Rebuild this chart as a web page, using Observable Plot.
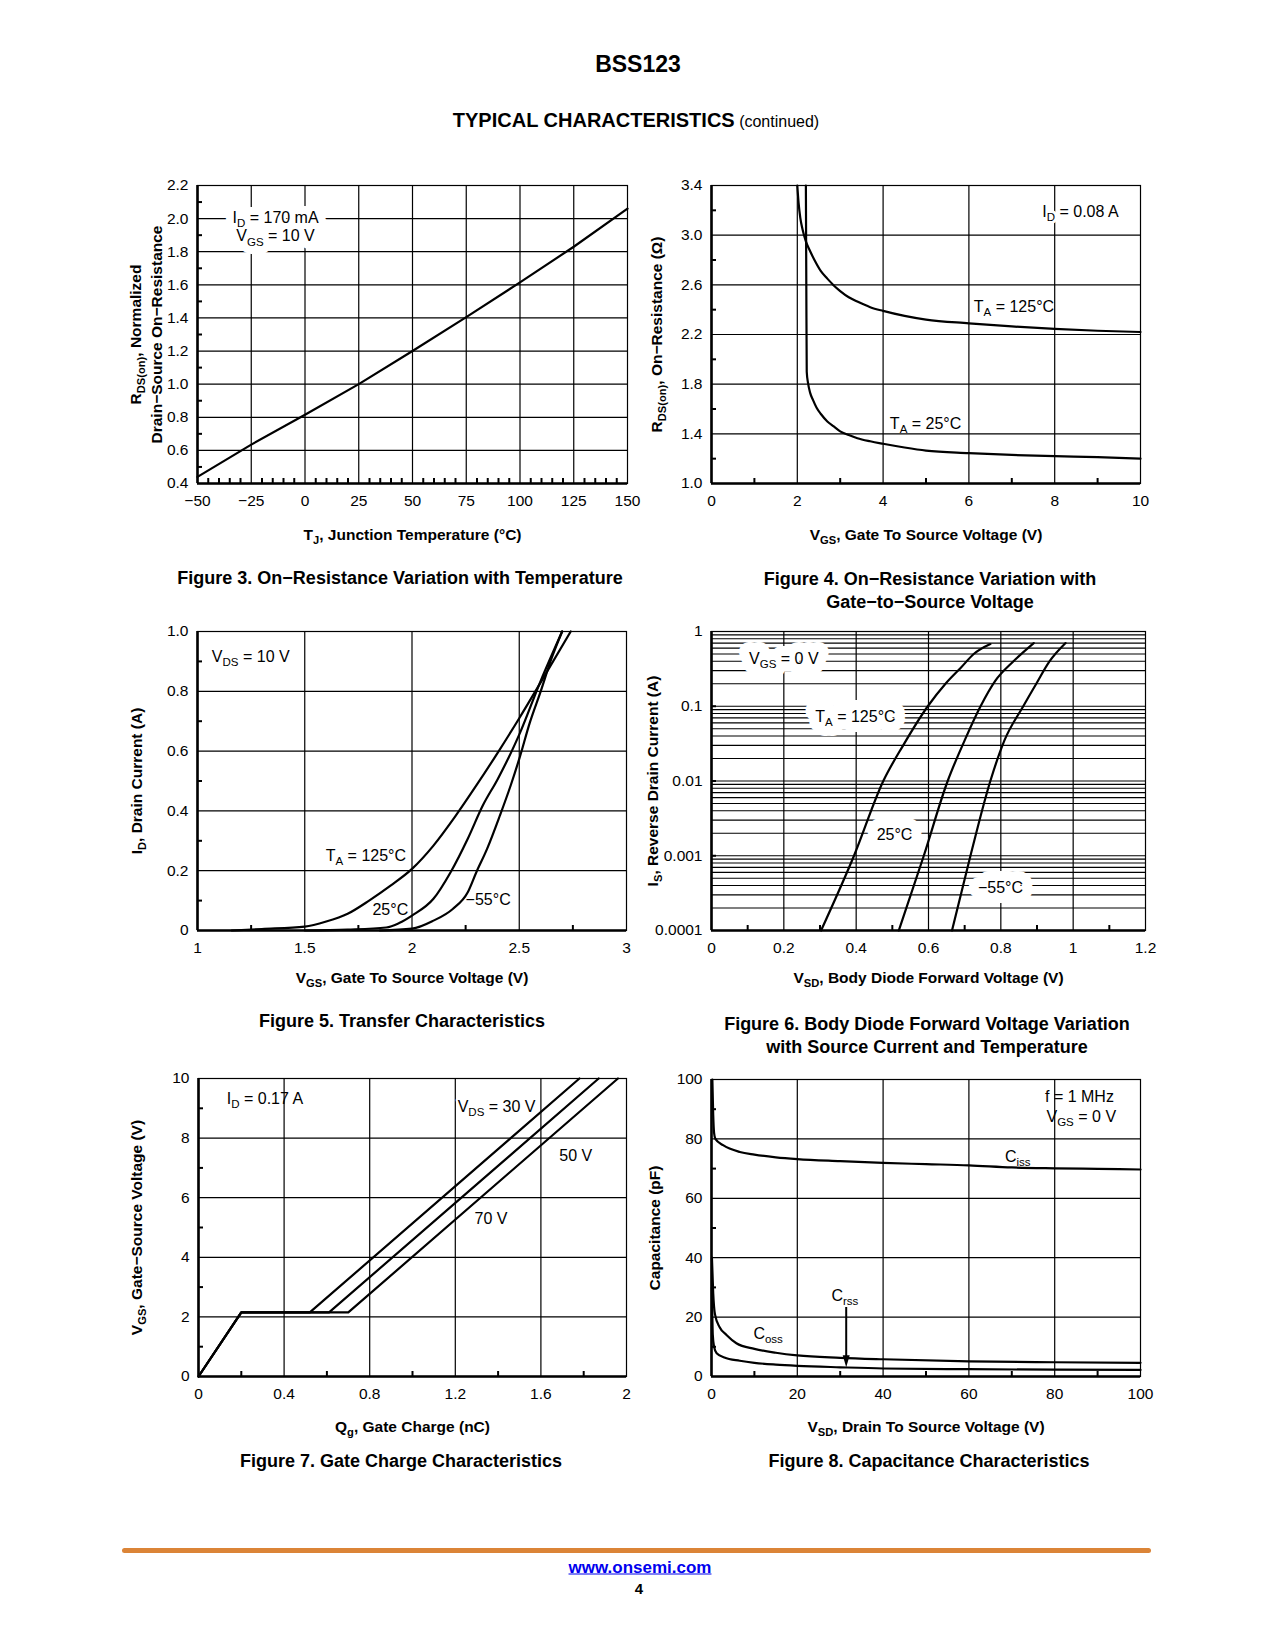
<!DOCTYPE html>
<html><head><meta charset="utf-8">
<script src="https://cdn.jsdelivr.net/npm/d3@7"></script>
<script src="https://cdn.jsdelivr.net/npm/@observablehq/plot@0.6"></script>
<style>
body{margin:0;background:#fff;}
#page{position:relative;width:1275px;height:1650px;background:#fff;font-family:"Liberation Sans",Arial,Helvetica,sans-serif;color:#000;overflow:hidden;}
.abs{position:absolute;white-space:nowrap;transform:translate(-50%,-50%);text-align:center;line-height:1;}
.cap{font-weight:bold;font-size:18px;}
</style></head><body><div id="page"></div>
<script>
// ---------- DATA ----------
// Figure 3
const fig3Temp = [-50, -25, 0, 25, 50, 75, 100, 125, 150];
const fig3Rnorm = [0.44, 0.635, 0.815, 1.0, 1.2, 1.405, 1.615, 1.83, 2.06];
// Figure 4
const fig4Vgs125 = [2.0, 2.03, 2.07, 2.12, 2.2, 2.3, 2.4, 2.55, 2.7, 2.85, 3.0, 3.2, 3.4, 3.7, 4.0, 4.5, 5, 6, 7, 8, 9, 10];
const fig4R125   = [3.4, 3.26, 3.14, 3.05, 2.95, 2.87, 2.80, 2.71, 2.65, 2.595, 2.55, 2.50, 2.465, 2.42, 2.39, 2.35, 2.32, 2.29, 2.265, 2.245, 2.23, 2.22];
const fig4Vgs25  = [2.2, 2.21, 2.22, 2.25, 2.3, 2.37, 2.45, 2.55, 2.7, 2.85, 3.0, 3.2, 3.4, 3.7, 4.0, 4.5, 5, 6, 7, 8, 9, 10];
const fig4R25    = [3.4, 2.6, 1.9, 1.81, 1.73, 1.67, 1.61, 1.56, 1.5, 1.46, 1.42, 1.39, 1.365, 1.34, 1.32, 1.29, 1.265, 1.245, 1.23, 1.22, 1.213, 1.2];
// Figure 5
const fig5Vgs125 = [1.16, 1.3, 1.5, 1.6, 1.7, 1.8, 1.9, 2.0, 2.1, 2.2, 2.3, 2.4, 2.5, 2.6, 2.74];
const fig5Id125  = [0, 0.005, 0.013, 0.03, 0.056, 0.1, 0.15, 0.206, 0.284, 0.38, 0.485, 0.595, 0.71, 0.83, 1.0];
const fig5Vgs25  = [1.5, 1.7, 1.88, 1.94, 2.0, 2.1, 2.18, 2.26, 2.33, 2.4, 2.5, 2.6, 2.70];
const fig5Id25   = [0, 0.003, 0.01, 0.025, 0.05, 0.106, 0.195, 0.307, 0.418, 0.507, 0.655, 0.835, 1.0];
const fig5VgsM55 = [1.85, 2.0, 2.1, 2.19, 2.26, 2.3, 2.35, 2.41, 2.46, 2.5, 2.55, 2.6, 2.65, 2.70];
const fig5IdM55  = [0, 0.006, 0.033, 0.072, 0.128, 0.195, 0.273, 0.385, 0.485, 0.574, 0.697, 0.80, 0.909, 1.0];
// Figure 6
const fig6Vsd125 = [0.303, 0.394, 0.475, 0.53, 0.598, 0.647, 0.69, 0.725, 0.771];
const fig6Is125  = [1e-4, 1e-3, 1e-2, 0.03, 0.1, 0.2, 0.33, 0.5, 0.68];
const fig6Vsd25  = [0.518, 0.587, 0.653, 0.7, 0.744, 0.785, 0.835, 0.891];
const fig6Is25   = [1e-4, 1e-3, 1e-2, 0.035, 0.1, 0.22, 0.4, 0.7];
const fig6VsdM55 = [0.665, 0.716, 0.771, 0.81, 0.862, 0.898, 0.935, 0.979];
const fig6IsM55  = [1e-4, 1e-3, 1e-2, 0.035, 0.1, 0.2, 0.4, 0.7];
// Figure 7
const fig7Qg30 = [0, 0.2, 0.52, 1.78];
const fig7Qg50 = [0, 0.2, 0.61, 1.87];
const fig7Qg70 = [0, 0.2, 0.70, 1.96];
const fig7Vgs  = [0, 2.15, 2.15, 10];
// Figure 8
const fig8VdsIss = [0.2, 0.4, 0.6, 0.9, 2.7, 6.6, 10, 15, 20, 30, 40, 50, 60, 70, 80, 90, 100];
const fig8Ciss   = [100, 88, 82, 80, 77.9, 75.6, 74.7, 73.8, 73.2, 72.5, 71.9, 71.5, 71.1, 70.4, 70.1, 69.9, 69.7];
const fig8VdsOss = [0.1, 0.4, 0.8, 1.9, 3.5, 5.8, 10, 15, 20, 30, 40, 60, 80, 100];
const fig8Coss   = [40, 28, 21, 16.6, 14, 11.2, 9.3, 8, 7.1, 6.3, 5.8, 5.1, 4.8, 4.6];
const fig8VdsRss = [0.1, 0.3, 0.6, 1.2, 3, 6.6, 10, 15, 20, 30, 40, 60, 80, 100];
const fig8Crss   = [30, 14, 10, 7.8, 6.4, 5.3, 4.6, 4.0, 3.6, 3.1, 2.7, 2.45, 2.3, 2.2];

// Tick label arrays
const fig3XTicks = [-50, -25, 0, 25, 50, 75, 100, 125, 150];
const fig3YTicks = [0.4, 0.6, 0.8, 1.0, 1.2, 1.4, 1.6, 1.8, 2.0, 2.2];
const fig4XTicks = [0, 2, 4, 6, 8, 10];
const fig4YTicks = [1.0, 1.4, 1.8, 2.2, 2.6, 3.0, 3.4];
const fig5XTicks = [1, 1.5, 2, 2.5, 3];
const fig5YTicks = [0, 0.2, 0.4, 0.6, 0.8, 1.0];
const fig6XTicks = [0, 0.2, 0.4, 0.6, 0.8, 1, 1.2];
const fig6YTicks = [0.0001, 0.001, 0.01, 0.1, 1];
const fig7XTicks = [0, 0.4, 0.8, 1.2, 1.6, 2];
const fig7YTicks = [0, 2, 4, 6, 8, 10];
const fig8XTicks = [0, 20, 40, 60, 80, 100];
const fig8YTicks = [0, 20, 40, 60, 80, 100];

// ---------- HELPERS ----------
const FONT = '"Liberation Sans", Arial, Helvetica, sans-serif';
const page = document.getElementById("page");
const NS = "http://www.w3.org/2000/svg";
const pts = (xs, ys) => xs.map((x, i) => ({x, y: ys[i]}));
const inner = (a) => a.slice(1, -1);

function subify(svg) {
  const els = Array.from(svg.querySelectorAll("text, tspan"));
  for (const el of els) {
    for (const node of Array.from(el.childNodes)) {
      if (node.nodeType !== 3 || !node.nodeValue.includes("_{")) continue;
      const parts = node.nodeValue.split(/_\{([^}]*)\}/);
      const frag = document.createDocumentFragment();
      parts.forEach((p, i) => {
        if (i === 0) { if (p) frag.appendChild(document.createTextNode(p)); }
        else if (i % 2 === 1) {
          const s = document.createElementNS(NS, "tspan");
          s.setAttribute("font-size", "72%");
          s.setAttribute("dy", "0.35em");
          s.textContent = p;
          frag.appendChild(s);
          const rest = parts[i + 1];
          if (rest) {
            const r = document.createElementNS(NS, "tspan");
            r.setAttribute("dy", "-0.252em");
            r.textContent = rest;
            frag.appendChild(r);
          }
        }
      });
      el.replaceChild(frag, node);
    }
  }
}

function label(x, y, text, opts = {}) {
  return Plot.text([{x, y, text}], {x: "x", y: "y", text: "text", fill: "#000", fontSize: 16, ...opts});
}
// white box-like halo under a label, then the black label itself
function haloLabel(x, y, text, w = 10, opts = {}) {
  return [
    label(x, y, text, {fill: "white", stroke: "white", strokeWidth: w, strokeLinejoin: "round", ...opts}),
    label(x, y, text, opts)
  ];
}
function curve(data, extra = {}) {
  return Plot.line(data, {x: "x", y: "y", stroke: "#000", strokeWidth: 2.2, curve: "monotone-x", ...extra});
}

function mkChart(cfg) {
  const W = cfg.right - cfg.left, H = cfg.bottom - cfg.top;
  const mL = 100, mR = 30, mT = 15, mB = 75;
  const grid = {stroke: "#000", strokeOpacity: 1, strokeWidth: 1.2};
  const plot = Plot.plot({
    width: W + mL + mR, height: H + mT + mB,
    marginLeft: mL, marginRight: mR, marginTop: mT, marginBottom: mB,
    style: {fontFamily: FONT, fontSize: "15.5px", color: "#000", background: "transparent", overflow: "visible"},
    x: {type: cfg.xType || "linear", domain: cfg.xDomain},
    y: {type: cfg.yType || "linear", domain: cfg.yDomain},
    marks: [
      Plot.gridX(cfg.xGrid, grid),
      Plot.gridY(cfg.yGrid, grid),
      Plot.tickX(cfg.xMinor, {stroke: "#000", strokeWidth: 2, insetTop: H - 5}),
      Plot.tickY(cfg.yMinor, {stroke: "#000", strokeWidth: 2, insetRight: W - 5}),
      Plot.frame({stroke: "#000", strokeWidth: 1.2}),
      Plot.ruleX([cfg.xDomain[0]], {stroke: "#000", strokeWidth: 2.6}),
      Plot.ruleY([cfg.yDomain[0]], {stroke: "#000", strokeWidth: 2.6}),
      Plot.axisX(cfg.xTicks, {anchor: "bottom", tickSize: 0, tickPadding: 11, tickFormat: cfg.xFormat, label: null}),
      Plot.axisY(cfg.yTicks, {anchor: "left", tickSize: 0, tickPadding: 9, tickFormat: cfg.yFormat, label: null}),
      ...cfg.marks.flat(),
      Plot.text([cfg.xTitle], {text: d => d, frameAnchor: "bottom", textAnchor: "middle", lineAnchor: "middle", dy: cfg.xTitleDy, fontWeight: "bold", fontSize: 15.5, fill: "#000"}),
      Plot.text([cfg.yTitle], {text: d => d, frameAnchor: "left", textAnchor: "middle", lineAnchor: "middle", rotate: -90, dx: cfg.yTitleDx, fontWeight: "bold", fontSize: 15.5, lineHeight: 1.4, fill: "#000"})
    ]
  });
  subify(plot);
  const div = document.createElement("div");
  div.style.cssText = `position:absolute;left:${cfg.left - mL}px;top:${cfg.top - mT}px;width:${W + mL + mR}px;`;
  div.appendChild(plot);
  page.appendChild(div);
}

function html(x, y, content, cls = "", style = "") {
  const d = document.createElement("div");
  d.className = "abs " + cls;
  d.style.cssText = `left:${x}px;top:${y}px;${style}`;
  d.innerHTML = content;
  page.appendChild(d);
}

const minus = d => d < 0 ? "\u2212" + (-d) : String(d);
const fix1 = d => d.toFixed(1);

// ---------- FIGURE 3 ----------
mkChart({
  left: 197, right: 627, top: 185, bottom: 483,
  xDomain: [-50, 150], yDomain: [0.4, 2.2],
  xTicks: fig3XTicks, yTicks: fig3YTicks, xFormat: minus, yFormat: fix1,
  xGrid: inner(fig3XTicks), yGrid: inner(fig3YTicks),
  xMinor: d3.range(-45, 150, 5).filter(v => v % 25 !== 0),
  yMinor: d3.range(0.5, 2.2, 0.2),
  xTitle: "T_{J}, Junction Temperature (°C)", xTitleDy: 52,
  yTitle: "R_{DS(on)}, Normalized\nDrain\u2212Source On\u2212Resistance", yTitleDx: -53,
  marks: [
    haloLabel(-13.7, 1.953, "I_{D} = 170 mA\nV_{GS} = 10 V", 16, {lineHeight: 1.15}),
    curve(pts(fig3Temp, fig3Rnorm), {curve: "linear"})
  ]
});

// ---------- FIGURE 4 ----------
mkChart({
  left: 711, right: 1140, top: 185, bottom: 483,
  xDomain: [0, 10], yDomain: [1.0, 3.4],
  xTicks: fig4XTicks, yTicks: fig4YTicks, xFormat: String, yFormat: fix1,
  xGrid: inner(fig4XTicks), yGrid: inner(fig4YTicks),
  xMinor: [1, 3, 5, 7, 9], yMinor: [1.2, 1.6, 2.0, 2.4, 2.8, 3.2],
  xTitle: "V_{GS}, Gate To Source Voltage (V)", xTitleDy: 52,
  yTitle: "R_{DS(on)}, On\u2212Resistance (\u03A9)", yTitleDx: -56,
  marks: [
    haloLabel(8.6, 3.185, "I_{D} = 0.08 A", 6),
    label(7.05, 2.42, "T_{A} = 125°C"),
    label(4.99, 1.483, "T_{A} = 25°C"),
    curve(pts(fig4Vgs125, fig4R125)),
    curve(pts(fig4Vgs25, fig4R25))
  ]
});

// ---------- FIGURE 5 ----------
mkChart({
  left: 197, right: 626, top: 631, bottom: 930,
  xDomain: [1, 3], yDomain: [0, 1.0],
  xTicks: fig5XTicks, yTicks: fig5YTicks, xFormat: String, yFormat: d => d === 0 ? "0" : d.toFixed(1),
  xGrid: inner(fig5XTicks), yGrid: inner(fig5YTicks),
  xMinor: [1.25, 1.75, 2.25, 2.75], yMinor: [0.1, 0.3, 0.5, 0.7, 0.9],
  xTitle: "V_{GS}, Gate To Source Voltage (V)", xTitleDy: 48,
  yTitle: "I_{D}, Drain Current (A)", yTitleDx: -62,
  marks: [
    label(1.067, 0.914, "V_{DS} = 10 V", {textAnchor: "start"}),
    label(1.785, 0.249, "T_{A} = 125°C"),
    label(1.899, 0.07, "25°C"),
    label(2.355, 0.104, "\u221255°C"),
    curve(pts(fig5Vgs125, fig5Id125)),
    curve(pts(fig5Vgs25, fig5Id25)),
    curve(pts(fig5VgsM55, fig5IdM55))
  ]
});

// ---------- FIGURE 6 ----------
const fig6LogGrid = [];
for (const dec of fig6YTicks.slice(0, -1)) for (let k = 1; k <= 9; k++) fig6LogGrid.push(dec * k);
mkChart({
  left: 711, right: 1145, top: 631, bottom: 930,
  xDomain: [0, 1.2], yDomain: [0.0001, 1], yType: "log",
  xTicks: fig6XTicks, yTicks: fig6YTicks, xFormat: String, yFormat: String,
  xGrid: inner(fig6XTicks), yGrid: fig6LogGrid.slice(1),
  xMinor: [0.1, 0.3, 0.5, 0.7, 0.9, 1.1], yMinor: [0.001, 0.01, 0.1],
  xTitle: "V_{SD}, Body Diode Forward Voltage (V)", xTitleDy: 48,
  yTitle: "I_{S}, Reverse Drain Current (A)", yTitleDx: -60,
  marks: [
    haloLabel(0.2, 0.43, "V_{GS} = 0 V", 20),
    haloLabel(0.398, 0.0714, "T_{A} = 125°C", 20),
    haloLabel(0.506, 0.0019, "25°C", 20),
    haloLabel(0.799, 0.000368, "\u221255°C", 20),
    curve(pts(fig6Vsd125, fig6Is125)),
    curve(pts(fig6Vsd25, fig6Is25)),
    curve(pts(fig6VsdM55, fig6IsM55))
  ]
});

// ---------- FIGURE 7 ----------
mkChart({
  left: 198, right: 626, top: 1078, bottom: 1376,
  xDomain: [0, 2], yDomain: [0, 10],
  xTicks: fig7XTicks, yTicks: fig7YTicks, xFormat: String, yFormat: String,
  xGrid: inner(fig7XTicks), yGrid: inner(fig7YTicks),
  xMinor: [0.2, 0.6, 1.0, 1.4, 1.8], yMinor: [1, 3, 5, 7, 9],
  xTitle: "Q_{g}, Gate Charge (nC)", xTitleDy: 51,
  yTitle: "V_{GS}, Gate\u2212Source Voltage (V)", yTitleDx: -63,
  marks: [
    label(0.132, 9.33, "I_{D} = 0.17 A", {textAnchor: "start"}),
    haloLabel(1.393, 9.05, "V_{DS} = 30 V", 4),
    label(1.763, 7.40, "50 V"),
    label(1.367, 5.30, "70 V"),
    curve(pts(fig7Qg30, fig7Vgs), {curve: "linear"}),
    curve(pts(fig7Qg50, fig7Vgs), {curve: "linear"}),
    curve(pts(fig7Qg70, fig7Vgs), {curve: "linear"})
  ]
});

// ---------- FIGURE 8 ----------
const arrowHead = {draw(c) { c.moveTo(0, 0); c.lineTo(-3.5, -12); c.lineTo(3.5, -12); c.closePath(); }};
mkChart({
  left: 711, right: 1140, top: 1079, bottom: 1376,
  xDomain: [0, 100], yDomain: [0, 100],
  xTicks: fig8XTicks, yTicks: fig8YTicks, xFormat: String, yFormat: String,
  xGrid: inner(fig8XTicks), yGrid: inner(fig8YTicks),
  xMinor: [10, 30, 50, 70, 90], yMinor: [10, 30, 50, 70, 90],
  xTitle: "V_{SD}, Drain To Source Voltage (V)", xTitleDy: 51,
  yTitle: "Capacitance (pF)", yTitleDx: -58,
  marks: [
    label(93.8, 94.2, "f = 1 MHz", {textAnchor: "end"}),
    label(94.3, 87.4, "V_{GS} = 0 V", {textAnchor: "end"}),
    label(71.4, 73.9, "C_{iss}"),
    label(13.2, 14.4, "C_{oss}"),
    label(31.1, 27.3, "C_{rss}"),
    Plot.link([{x: 31.4, y1: 23.4, y2: 6}], {x1: "x", x2: "x", y1: "y1", y2: "y2", stroke: "#000", strokeWidth: 2}),
    Plot.dot([{x: 31.4, y: 3.1}], {x: "x", y: "y", symbol: arrowHead, fill: "#000", stroke: "none", r: 4}),
    curve(pts(fig8VdsIss, fig8Ciss)),
    curve(pts(fig8VdsOss, fig8Coss)),
    curve(pts(fig8VdsRss, fig8Crss))
  ]
});

// ---------- PAGE TEXT ----------
html(638, 64, "BSS123", "", "font-weight:bold;font-size:23px;");
html(636, 120, '<b style="font-size:20px">TYPICAL CHARACTERISTICS</b> <span style="font-size:16px">(continued)</span>');
html(400, 578, "Figure 3. On\u2212Resistance Variation with Temperature", "cap");
html(930, 579, "Figure 4. On\u2212Resistance Variation with", "cap");
html(930, 602, "Gate\u2212to\u2212Source Voltage", "cap");
html(402, 1021, "Figure 5. Transfer Characteristics", "cap");
html(927, 1024, "Figure 6. Body Diode Forward Voltage Variation", "cap");
html(927, 1047, "with Source Current and Temperature", "cap");
html(401, 1461, "Figure 7. Gate Charge Characteristics", "cap");
html(929, 1461, "Figure 8. Capacitance Characteristics", "cap");

const rule = document.createElement("div");
rule.style.cssText = "position:absolute;left:122px;top:1548px;width:1029px;height:5px;background:#DB8437;border-radius:3px;";
page.appendChild(rule);
html(640, 1567, '<a style="color:#0000EE;text-decoration:underline;">www.onsemi.com</a>', "", "font-weight:bold;font-size:17px;");
html(639, 1588, "4", "", "font-weight:bold;font-size:15px;");
</script></body></html>
